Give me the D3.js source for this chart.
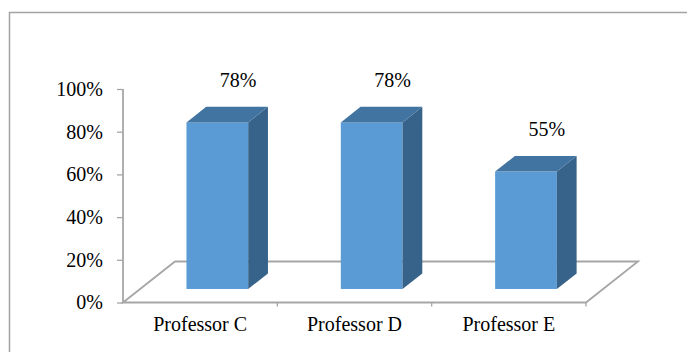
<!DOCTYPE html>
<html>
<head>
<meta charset="utf-8">
<script src="https://cdn.jsdelivr.net/npm/d3@7"></script>
<style>
  body { margin: 0; background: white; }
</style>
</head>
<body>
<div id="d3-container"></div>
<script>
// data
let categories = ["Professor C", "Professor D", "Professor E"];
let values = [0.78, 0.78, 0.55];
let tickValues = [0, 0.2, 0.4, 0.6, 0.8, 1];

let width = 687,
  height = 352;

let plot = { left: 123, right: 586, top: 89, bottom: 302.5 };

// floor depth (back edge offset) and where the bar sits inside it
let floorDx = 52, floorDy = -41;
let frontT = 0.33, backT = 0.71;

let serif = '"Liberation Serif", "Times New Roman", "DejaVu Serif", serif';

let svg1 = d3.select('#d3-container')
  .append('svg')
  .attr('width', width)
  .attr('height', height)
  .style('background-color', 'white');

// chart frame, cut by the image edge on right and bottom
svg1.append("rect")
  .attr("x", 9.5)
  .attr("y", 12.5)
  .attr("width", 720)
  .attr("height", 400)
  .attr("fill", "none")
  .attr("stroke", "#a3a3a3")
  .attr("stroke-width", 1.5);

let x = d3.scaleBand().domain(categories).range([plot.left, plot.right]).padding(0),
  y = d3.scaleLinear().domain([0, 1]).range([plot.bottom, plot.top]);

let grey = "#a6a6a6";

// floor
let x0 = x.range()[0], x1 = x.range()[1];
svg1.append("path")
  .attr("d", "M" + x0 + "," + y(0) +
    " L" + (x0 + floorDx) + "," + (y(0) + floorDy) +
    " L" + (x1 + floorDx) + "," + (y(0) + floorDy) +
    " L" + x1 + "," + y(0) + " Z")
  .attr("fill", "none")
  .attr("stroke", grey)
  .attr("stroke-width", 1.8);

// y axis
let yAxis = svg1.append("g")
  .attr("transform", "translate(" + plot.left + ",0)")
  .call(d3.axisLeft(y).tickValues(tickValues).tickFormat(d3.format(".0%")).tickSize(6).tickPadding(14));
yAxis.attr("font-family", null);
yAxis.select(".domain").attr("stroke", grey).attr("stroke-width", 1.8).attr("d", "M0," + plot.top + "V" + plot.bottom);
yAxis.selectAll(".tick line").attr("stroke", grey).attr("stroke-width", 1.3);
yAxis.selectAll(".tick text").style("font-family", serif).style("font-size", "20px").attr("fill", "#000");

// x axis
let xAxis = svg1.append("g")
  .attr("transform", "translate(0," + y(0) + ")")
  .call(d3.axisBottom(x).tickSize(0).tickPadding(14));
xAxis.attr("font-family", null);
xAxis.select(".domain").remove();
xAxis.selectAll(".tick text").style("font-family", serif).style("font-size", "20px").attr("fill", "#000");
// category separators
svg1.selectAll(".xsep")
  .data(categories.slice(1).concat([null]))
  .enter().append("line")
  .attr("x1", function(d) { return d ? x(d) : x1; })
  .attr("x2", function(d) { return d ? x(d) : x1; })
  .attr("y1", y(0))
  .attr("y2", y(0) + 4)
  .attr("stroke", grey)
  .attr("stroke-width", 1.3);

// 3D bars
let barW = x.bandwidth() * 0.4;
let fdx = floorDx * frontT, fdy = floorDy * frontT;
let sdx = floorDx * (backT - frontT), sdy = floorDy * (backT - frontT);

let bars = svg1.selectAll(".bar")
  .data(values)
  .enter().append("g")
  .attr("class", "bar");

function fx(d, i) { return x(categories[i]) + x.bandwidth() / 2 - barW / 2 + fdx; }
function fy(v) { return y(v) + fdy; }

// front face
bars.append("rect")
  .attr("x", fx)
  .attr("y", function(d) { return fy(d); })
  .attr("width", barW)
  .attr("height", function(d) { return fy(0) - fy(d); })
  .attr("fill", "#5b9bd5");

// side face
bars.append("path")
  .attr("d", function(d, i) {
    let a = fx(d, i) + barW;
    return "M" + a + "," + fy(d) + " L" + (a + sdx) + "," + (fy(d) + sdy) +
      " L" + (a + sdx) + "," + (fy(0) + sdy) + " L" + a + "," + fy(0) + "Z";
  })
  .attr("fill", "#376289");

// top face
bars.append("path")
  .attr("d", function(d, i) {
    let a = fx(d, i);
    return "M" + a + "," + fy(d) + " L" + (a + sdx) + "," + (fy(d) + sdy) +
      " L" + (a + barW + sdx) + "," + (fy(d) + sdy) + " L" + (a + barW) + "," + fy(d) + "Z";
  })
  .attr("fill", "#4274a2");

// value labels
bars.append("text")
  .attr("x", function(d, i) { return x(categories[i]) + x.bandwidth() / 2 + 38; })
  .attr("y", function(d) { return fy(d) + sdy - 20; })
  .attr("text-anchor", "middle")
  .style("font-family", serif)
  .style("font-size", "20px")
  .text(function(d) { return d3.format(".0%")(d); });
</script>
</body>
</html>
